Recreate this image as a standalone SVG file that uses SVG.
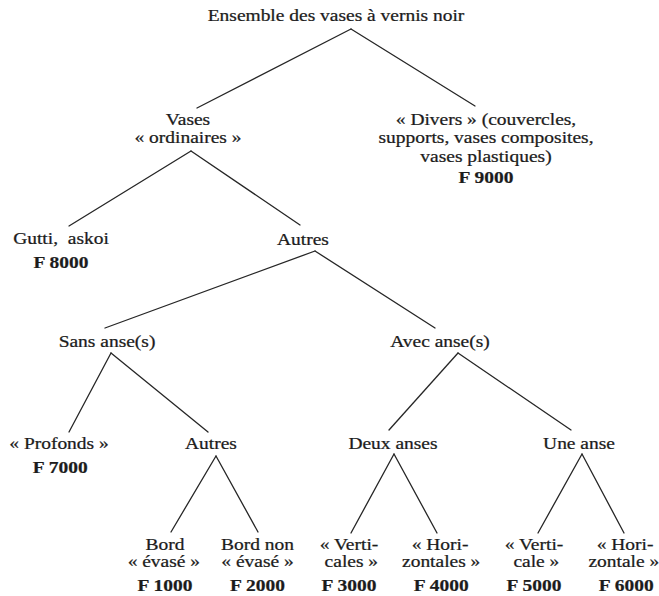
<svg xmlns="http://www.w3.org/2000/svg" width="659" height="596" viewBox="0 0 659 596">
<style>
text{font-family:"Liberation Serif","Times New Roman",serif;font-size:16.5px;fill:#1c1c1c;stroke:#1c1c1c;stroke-width:0.25;text-anchor:middle}
.b{font-weight:bold;stroke-width:0.2}
.c line{stroke:#262626;stroke-width:1.3;stroke-linecap:round}
</style>
<rect width="659" height="596" fill="#ffffff"/>
<g class="c" id="connectors">
<line x1="351" y1="29" x2="197" y2="108"/>
<line x1="351" y1="29" x2="475" y2="106"/>
<line x1="191" y1="151" x2="69" y2="226"/>
<line x1="191" y1="151" x2="300" y2="225"/>
<line x1="315" y1="251" x2="105" y2="328"/>
<line x1="315" y1="251" x2="435" y2="328"/>
<line x1="111" y1="353" x2="69" y2="432"/>
<line x1="111" y1="353" x2="208" y2="432"/>
<line x1="458" y1="353" x2="389" y2="430"/>
<line x1="458" y1="353" x2="571" y2="430"/>
<line x1="216" y1="456" x2="171" y2="532"/>
<line x1="216" y1="456" x2="258" y2="532"/>
<line x1="394" y1="454" x2="351" y2="533"/>
<line x1="394" y1="454" x2="437" y2="533"/>
<line x1="582" y1="454" x2="538" y2="533"/>
<line x1="582" y1="454" x2="624" y2="533"/>
</g>
<g id="n-root" transform="translate(336,21) scale(1.18,1)"><text x="0" y="0">Ensemble des vases à vernis noir</text></g>
<g id="n-vases" transform="translate(188,125) scale(1.18,1)"><text x="0" y="0">Vases</text><text x="0" y="18">« ordinaires »</text></g>
<g id="n-divers" transform="translate(486,125) scale(1.18,1)"><text x="0" y="0">« Divers » (couvercles,</text><text x="0" y="18">supports, vases composites,</text><text x="0" y="37">vases plastiques)</text><text class="b" x="0" y="58">F 9000</text></g>
<g id="n-gutti" transform="translate(61,244) scale(1.18,1)"><text x="0" y="0">Gutti,&#160; askoi</text><text class="b" x="0" y="24">F 8000</text></g>
<g id="n-autres1" transform="translate(303,245) scale(1.18,1)"><text x="0" y="0">Autres</text></g>
<g id="n-sans" transform="translate(107,347) scale(1.18,1)"><text x="0" y="0">Sans anse(s)</text></g>
<g id="n-avec" transform="translate(440,347) scale(1.18,1)"><text x="0" y="0">Avec anse(s)</text></g>
<g id="n-profonds" transform="translate(59,449) scale(1.18,1)"><text x="0" y="0">« Profonds »</text><text class="b" x="1" y="24">F 7000</text></g>
<g id="n-autres2" transform="translate(211,449) scale(1.18,1)"><text x="0" y="0">Autres</text></g>
<g id="n-deux" transform="translate(393,449) scale(1.18,1)"><text x="0" y="0">Deux anses</text></g>
<g id="n-une" transform="translate(579,449) scale(1.18,1)"><text x="0" y="0">Une anse</text></g>
<g id="n-bord" transform="translate(165,550) scale(1.18,1)"><text x="0" y="0">Bord</text><text x="-1" y="17">« évasé »</text><text class="b" x="0" y="41">F 1000</text></g>
<g id="n-bordnon" transform="translate(257.5,550) scale(1.18,1)"><text x="0" y="0">Bord non</text><text x="0" y="17">« évasé »</text><text class="b" x="0" y="41">F 2000</text></g>
<g id="n-verti1" transform="translate(349,550) scale(1.18,1)"><text x="0" y="0">« Verti-</text><text x="2" y="17">cales »</text><text class="b" x="0" y="41">F 3000</text></g>
<g id="n-hori1" transform="translate(440,550) scale(1.18,1)"><text x="0" y="0">« Hori-</text><text x="1" y="17">zontales »</text><text class="b" x="1" y="41">F 4000</text></g>
<g id="n-verti2" transform="translate(534,550) scale(1.18,1)"><text x="0" y="0">« Verti-</text><text x="2" y="17">cale »</text><text class="b" x="0" y="41">F 5000</text></g>
<g id="n-hori2" transform="translate(625,550) scale(1.18,1)"><text x="0" y="0">« Hori-</text><text x="-1" y="17">zontale »</text><text class="b" x="1" y="41">F 6000</text></g>
</svg>
